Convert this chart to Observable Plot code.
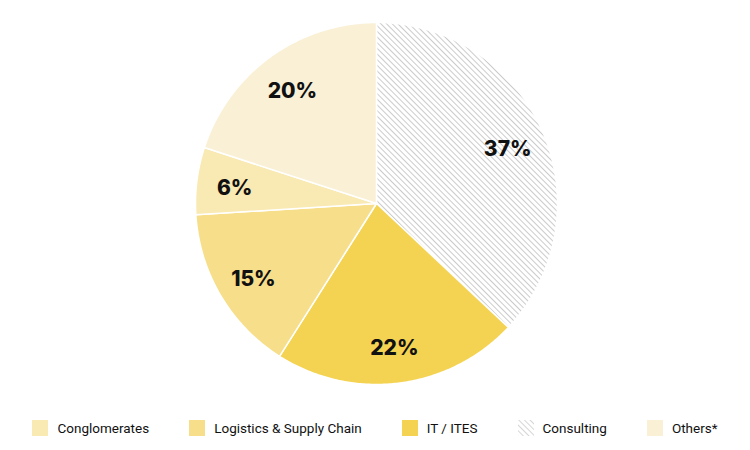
<!DOCTYPE html>
<html><head><meta charset="utf-8">
<script src="https://cdn.jsdelivr.net/npm/d3@7"></script>
<script src="https://cdn.jsdelivr.net/npm/@observablehq/plot@0.6"></script>
<style>
body{margin:0;background:#fff;font-family:Roboto,"Noto Sans",sans-serif;}
#legend{display:flex;justify-content:center;align-items:center;gap:40px;height:40px;font-size:13.5px;color:#111;margin-top:3px;}
.item{display:flex;align-items:center;gap:9px;}
.sw{width:16px;height:16px;display:inline-block;}
</style></head><body>
<div id="chart"></div>
<div id="legend"></div>
<script>
// data (clockwise from 12 o'clock)
const categories = ["Consulting", "IT / ITES", "Logistics & Supply Chain", "Conglomerates", "Others*"];
const values = [37, 22, 15, 6, 20];
const colors = ["url(#hatch)", "#f5d352", "#f7de8b", "#f9e9b3", "#f9f0d6"];
const legendOrder = ["Conglomerates", "Logistics & Supply Chain", "IT / ITES", "Consulting", "Others*"];

const W = 750, H = 405, R = 181, CX = 376, CY = 203;

const pie = d3.pie().sort(null).value(d => d.value);
const arcs = pie(categories.map((c, i) => ({category: c, value: values[i], color: colors[i]})));

function slicePoints(a) {
  const pts = [{x: 0, y: 0, category: a.data.category}];
  const n = Math.max(8, Math.ceil((a.endAngle - a.startAngle) / 0.01));
  for (let k = 0; k <= n; k++) {
    const t = a.startAngle + (a.endAngle - a.startAngle) * k / n;
    pts.push({x: Math.sin(t), y: Math.cos(t), category: a.data.category});
  }
  pts.push({x: 0, y: 0, category: a.data.category});
  return pts;
}

const labels = arcs.map(a => {
  const m = (a.startAngle + a.endAngle) / 2;
  return {x: 0.79 * Math.sin(m), y: 0.79 * Math.cos(m), text: a.data.value + "%"};
});

const plot = Plot.plot({
  width: W, height: H,
  margin: 0,
  x: {domain: [-CX / R, (W - CX) / R], range: [0, W], axis: null},
  y: {domain: [-(H - CY) / R, CY / R], range: [H, 0], axis: null},
  marks: [
    ...arcs.map(a => Plot.line(slicePoints(a), {x: "x", y: "y", fill: a.data.color, stroke: "white", strokeWidth: 1.5, curve: "linear"})),
    Plot.text(labels, {x: "x", y: "y", dy: 3, text: "text", fontSize: 21, fontWeight: 800, fill: "#111", fontFamily: "Inter, Roboto, sans-serif"})
  ]
});

const ns = "http://www.w3.org/2000/svg";
const defs = document.createElementNS(ns, "defs");
defs.innerHTML = `<pattern id="hatch" patternUnits="userSpaceOnUse" width="4" height="4" patternTransform="rotate(-45)">
<rect width="4" height="4" fill="white"/><line x1="0" y1="0" x2="0" y2="4" stroke="#a8a8a8" stroke-width="1.2"/></pattern>`;
plot.insertBefore(defs, plot.firstChild);
document.getElementById("chart").appendChild(plot);

const lg = document.getElementById("legend");
legendOrder.forEach(c => {
  const i = categories.indexOf(c);
  const it = document.createElement("div"); it.className = "item";
  const sw = document.createElementNS(ns, "svg"); sw.setAttribute("width", 16); sw.setAttribute("height", 16);
  if (colors[i].startsWith("url")) {
    sw.innerHTML = `<defs><pattern id="hatchL" patternUnits="userSpaceOnUse" width="4" height="4" patternTransform="rotate(-45)"><rect width="4" height="4" fill="white"/><line x1="0" y1="0" x2="0" y2="4" stroke="#bbb" stroke-width="1.2"/></pattern></defs><rect width="16" height="16" fill="url(#hatchL)"/>`;
  } else {
    sw.innerHTML = `<rect width="16" height="16" fill="${colors[i]}"/>`;
  }
  const tx = document.createElement("span"); tx.textContent = c;
  it.appendChild(sw); it.appendChild(tx); lg.appendChild(it);
});
</script></body></html>
